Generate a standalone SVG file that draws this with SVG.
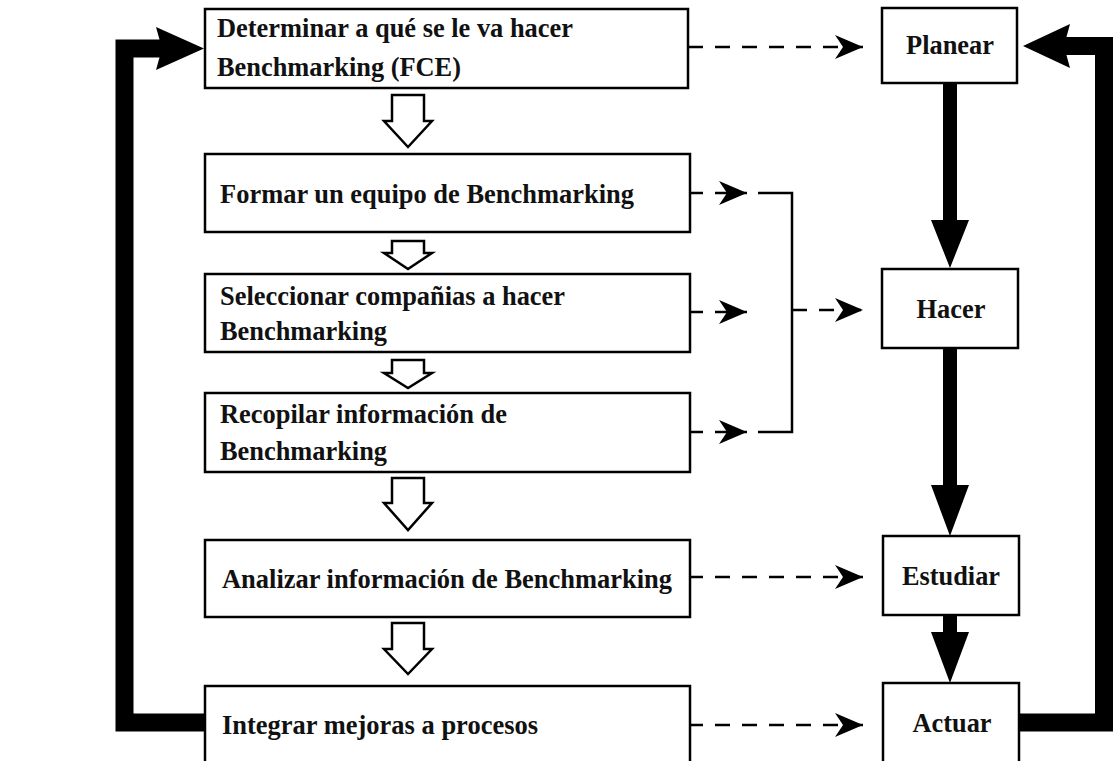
<svg xmlns="http://www.w3.org/2000/svg" width="1120" height="761" viewBox="0 0 1120 761">
<style>
.box{fill:#fff;stroke:#000;stroke-width:2.5}
.t{font-family:"Liberation Serif","Times New Roman",serif;font-weight:bold;font-size:28px;fill:#111}
.c{text-anchor:middle}
.dash{stroke:#000;stroke-width:2.5;stroke-dasharray:15 12;fill:none}
.solid{stroke:#000;stroke-width:2.5;fill:none}
.hollow{fill:#fff;stroke:#000;stroke-width:2.5;stroke-linejoin:miter}
.thick{fill:#000}
.loop{fill:none;stroke:#000;stroke-linejoin:miter}
</style>
<defs>
<marker id="ah" markerUnits="userSpaceOnUse" markerWidth="30" markerHeight="26" refX="28" refY="12" orient="auto">
<path d="M0,0 L28,12 L0,24 L8,12 Z" fill="#000"/>
</marker>
</defs>
<rect width="1120" height="761" fill="#fff"/>

<g id="connectors">
<path class="hollow" d="M392,95 H424 V121 H432 L408,147 L384,121 H392 Z"/>
<path class="hollow" d="M392,241 H424 V253 H432 L408,269 L384,253 H392 Z"/>
<path class="hollow" d="M392,360 H424 V373 H432 L408,388 L384,373 H392 Z"/>
<path class="hollow" d="M392,478 H424 V503 H432 L408,530 L384,503 H392 Z"/>
<path class="hollow" d="M392,623 H424 V649 H432 L408,674 L384,649 H392 Z"/>
<path class="thick" d="M943,83 H957 V220 H969 L950,268 L931,220 H943 Z"/>
<path class="thick" d="M943,348 H957 V485 H969 L950,536 L931,485 H943 Z"/>
<path class="thick" d="M943,615 H957 V632 H969 L950,683 L931,632 H943 Z"/>
<polyline class="loop" stroke-width="18" points="1018,722.5 1104,722.5 1104,46 1064,46"/>
<path class="thick" d="M1023,46 L1070,24 L1064,46 L1070,68 Z"/>
<polyline class="loop" stroke-width="18" points="205,722.5 124.5,722.5 124.5,48.5 162,48.5"/>
<path class="thick" d="M204,48.5 L156,27 L162,48.5 L156,70 Z"/>
<line class="dash" x1="688" y1="47" x2="863" y2="47" marker-end="url(#ah)"/>
<line class="dash" x1="688" y1="193" x2="747" y2="193" marker-end="url(#ah)"/>
<line class="dash" x1="688" y1="312" x2="747" y2="312" marker-end="url(#ah)"/>
<line class="dash" x1="688" y1="432" x2="747" y2="432" marker-end="url(#ah)"/>
<polyline class="solid" points="758,193 792,193 792,432 758,432"/>
<line class="dash" x1="792" y1="310" x2="863" y2="310" marker-end="url(#ah)"/>
<line class="dash" x1="688" y1="577" x2="863" y2="577" marker-end="url(#ah)"/>
<line class="dash" x1="688" y1="725" x2="863" y2="725" marker-end="url(#ah)"/>
</g>

<g id="n1">
<rect class="box" x="205" y="9" width="483" height="79"/>
<text class="t" x="217" y="37" textLength="356" lengthAdjust="spacingAndGlyphs">Determinar a qué se le va hacer</text>
<text class="t" x="217" y="76" textLength="244" lengthAdjust="spacingAndGlyphs">Benchmarking (FCE)</text>
</g>
<g id="n2">
<rect class="box" x="205" y="154" width="485" height="78"/>
<text class="t" x="220" y="203" textLength="414" lengthAdjust="spacingAndGlyphs">Formar un equipo de Benchmarking</text>
</g>
<g id="n3">
<rect class="box" x="205" y="274" width="485" height="78"/>
<text class="t" x="220" y="305" textLength="345" lengthAdjust="spacingAndGlyphs">Seleccionar compañias a hacer</text>
<text class="t" x="220" y="340" textLength="167" lengthAdjust="spacingAndGlyphs">Benchmarking</text>
</g>
<g id="n4">
<rect class="box" x="205" y="393" width="485" height="79"/>
<text class="t" x="220" y="423" textLength="287" lengthAdjust="spacingAndGlyphs">Recopilar información de</text>
<text class="t" x="220" y="460" textLength="167" lengthAdjust="spacingAndGlyphs">Benchmarking</text>
</g>
<g id="n5">
<rect class="box" x="205" y="540" width="485" height="77"/>
<text class="t" x="222" y="588" textLength="450" lengthAdjust="spacingAndGlyphs">Analizar información de Benchmarking</text>
</g>
<g id="n6">
<rect class="box" x="205" y="686" width="485" height="90"/>
<text class="t" x="222" y="734" textLength="316" lengthAdjust="spacingAndGlyphs">Integrar mejoras a procesos</text>
</g>

<g id="planear">
<rect class="box" x="882" y="8" width="135" height="75"/>
<text class="t c" x="950" y="54" textLength="88" lengthAdjust="spacingAndGlyphs">Planear</text>
</g>
<g id="hacer">
<rect class="box" x="882" y="269" width="136" height="79"/>
<text class="t c" x="951" y="318" textLength="69" lengthAdjust="spacingAndGlyphs">Hacer</text>
</g>
<g id="estudiar">
<rect class="box" x="883" y="536" width="136" height="79"/>
<text class="t c" x="951" y="585" textLength="98" lengthAdjust="spacingAndGlyphs">Estudiar</text>
</g>
<g id="actuar">
<rect class="box" x="883" y="683" width="136" height="93"/>
<text class="t c" x="952" y="732" textLength="79" lengthAdjust="spacingAndGlyphs">Actuar</text>
</g>
</svg>
